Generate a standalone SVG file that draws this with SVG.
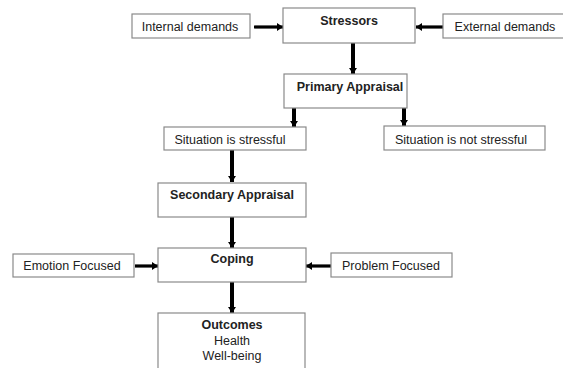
<svg xmlns="http://www.w3.org/2000/svg" width="563" height="368" viewBox="0 0 563 368">
<style>
.box{fill:#fff;stroke:#8a8a8a;stroke-width:1.2}
.t{font-family:"Liberation Sans",Arial,sans-serif;font-size:12.5px;fill:#222;text-anchor:middle}
.b{font-weight:bold}
.c{stroke:#000;fill:none}
.v{stroke-width:4}
.h{stroke-width:3.2}
</style>
<defs>
<marker id="ah" markerUnits="userSpaceOnUse" viewBox="0 0 6 8" refX="6" refY="4" markerWidth="6" markerHeight="8" orient="auto">
<path d="M0,0 L6,4 L0,8 Z" fill="#000"/>
</marker>
</defs>
<rect width="563" height="368" fill="#fff"/>
<g id="connectors">
<line class="c h" x1="254" y1="27" x2="283" y2="27" marker-end="url(#ah)"/>
<line class="c h" x1="443" y1="27" x2="416" y2="27" marker-end="url(#ah)"/>
<line class="c v" x1="353" y1="43" x2="353" y2="74" marker-end="url(#ah)"/>
<line class="c v" x1="294" y1="108" x2="294" y2="127" marker-end="url(#ah)"/>
<line class="c v" x1="404" y1="108" x2="404" y2="126" marker-end="url(#ah)"/>
<line class="c v" x1="232" y1="150" x2="232" y2="182" marker-end="url(#ah)"/>
<line class="c v" x1="232" y1="217" x2="232" y2="248" marker-end="url(#ah)"/>
<line class="c h" x1="135" y1="266" x2="158" y2="266" marker-end="url(#ah)"/>
<line class="c h" x1="331" y1="266" x2="306" y2="266" marker-end="url(#ah)"/>
<line class="c v" x1="232" y1="282" x2="232" y2="313" marker-end="url(#ah)"/>
</g>
<g id="internal"><rect class="box" x="132" y="14" width="118" height="24"/><text class="t" x="190" y="31">Internal demands</text></g>
<g id="stressors"><rect class="box" x="283" y="8" width="132" height="35"/><text class="t b" x="349" y="25">Stressors</text></g>
<g id="external"><rect class="box" x="443" y="14" width="122" height="24"/><text class="t" x="505" y="31">External demands</text></g>
<g id="primary"><rect class="box" x="284" y="74" width="123" height="34"/><text class="t b" x="350" y="91">Primary Appraisal</text></g>
<g id="stressful"><rect class="box" x="164" y="127" width="142" height="23"/><text class="t" x="230" y="144">Situation is stressful</text></g>
<g id="notstressful"><rect class="box" x="384" y="126" width="161" height="24"/><text class="t" x="461" y="144">Situation is not stressful</text></g>
<g id="secondary"><rect class="box" x="158" y="183" width="148" height="34"/><text class="t b" x="232" y="199">Secondary Appraisal</text></g>
<g id="emotion"><rect class="box" x="13" y="254" width="121" height="23"/><text class="t" x="72" y="270">Emotion Focused</text></g>
<g id="coping"><rect class="box" x="158" y="248" width="148" height="34"/><text class="t b" x="232" y="263">Coping</text></g>
<g id="problem"><rect class="box" x="331" y="253" width="121" height="24"/><text class="t" x="391" y="270">Problem Focused</text></g>
<g id="outcomes"><rect class="box" x="158" y="313" width="147" height="60"/><text class="t b" x="232" y="329">Outcomes</text><text class="t" x="232" y="345">Health</text><text class="t" x="232" y="360">Well-being</text></g>
</svg>
